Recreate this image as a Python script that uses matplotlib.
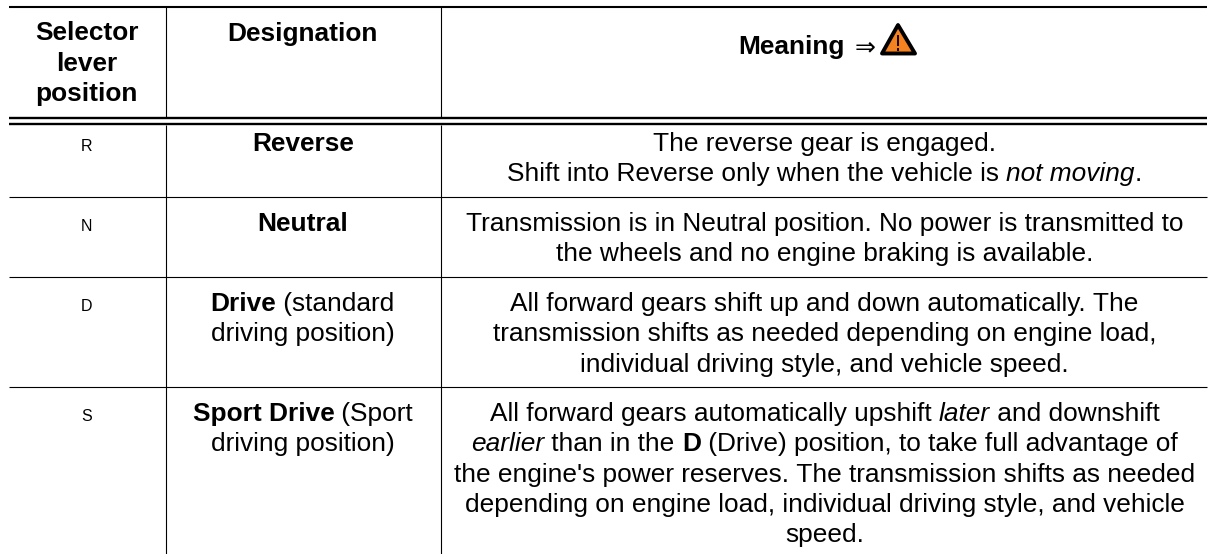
import matplotlib
matplotlib.use("Agg")
import matplotlib.pyplot as plt
from matplotlib.patches import Polygon

FONT = "Liberation Sans"
B, R, I = "bold", "regular", "italic"

positions = ["R", "N", "D", "S"]
designations = [
    [[("Reverse", B)]],
    [[("Neutral", B)]],
    [[("Drive", B), (" (standard", R)], [("driving position)", R)]],
    [[("Sport Drive", B), (" (Sport", R)], [("driving position)", R)]],
]
meanings = [
    [[("The reverse gear is engaged.", R)],
     [("Shift into Reverse only when the vehicle is ", R), ("not moving", I), (".", R)]],
    [[("Transmission is in Neutral position. No power is transmitted to", R)],
     [("the wheels and no engine braking is available.", R)]],
    [[("All forward gears shift up and down automatically. The", R)],
     [("transmission shifts as needed depending on engine load,", R)],
     [("individual driving style, and vehicle speed.", R)]],
    [[("All forward gears automatically upshift ", R), ("later", I), (" and downshift", R)],
     [("earlier", I), (" than in the ", R), ("D", B), (" (Drive) position, to take full advantage of", R)],
     [("the engine's power reserves. The transmission shifts as needed", R)],
     [("depending on engine load, individual driving style, and vehicle", R)],
     [("speed.", R)]],
]
header_col1 = ["Selector", "lever", "position"]
header_col2 = "Designation"
header_col3 = "Meaning"
header_arrow = "\u21d2"

row_rules = [197.3, 277.3, 387.3]
row_baselines = [151, 231, 311, 421]
col_rules = [165.7, 440.7]
col_centers = [86.7, 302.7, 824.5]
LINE = 30.3
FS = 18.9

fig = plt.figure(figsize=(12.16, 5.54), dpi=100)
ax = fig.add_axes([0, 0, 1, 1])
ax.set_xlim(0, 1216)
ax.set_ylim(554, 0)
ax.axis("off")
renderer = fig.canvas.get_renderer()


def style(kind):
    return dict(family=FONT,
                weight="bold" if kind == B else "normal",
                style="italic" if kind == I else "normal")


def rich_line(cx, y, runs, fs=FS):
    widths = []
    for text, kind in runs:
        t = ax.text(0, 0, text.replace(" ", "\u00a0"), fontsize=fs, **style(kind))
        widths.append(t.get_window_extent(renderer).width)
        t.remove()
    x = cx - sum(widths) / 2
    for (text, kind), w in zip(runs, widths):
        ax.text(x, y, text.replace(" ", "\u00a0"), fontsize=fs, color="black",
                ha="left", va="baseline", **style(kind))
        x += w


def block(cx, y0, lines, fs=FS):
    for i, runs in enumerate(lines):
        rich_line(cx, y0 + i * LINE, runs, fs)


# rules
L, Rt = 9, 1207
ax.plot([L, Rt], [6.7, 6.7], color="k", lw=1.5, solid_capstyle="butt")
ax.plot([L, Rt], [118.3, 118.3], color="k", lw=1.7, solid_capstyle="butt")
ax.plot([L, Rt], [124.3, 124.3], color="k", lw=1.7, solid_capstyle="butt")
for y in row_rules:
    ax.plot([L, Rt], [y, y], color="k", lw=0.8, solid_capstyle="butt")
for x in col_rules:
    ax.plot([x, x], [6.7, 117.5], color="k", lw=0.8, solid_capstyle="butt")
    ax.plot([x, x], [125, 554], color="k", lw=0.8, solid_capstyle="butt")

# header
for i, h in enumerate(header_col1):
    rich_line(col_centers[0], 40.5 + i * 30.5, [(h, B)])
rich_line(col_centers[1], 40.5, [(header_col2, B)])
ax.text(791.5, 54, header_col3, fontsize=FS, ha="center", va="baseline", **style(B))
ax.text(865, 54, header_arrow, fontsize=18, ha="center", va="baseline", family="DejaVu Sans")
ax.add_patch(Polygon([[898, 25], [882, 53.5], [915, 53.5]], closed=True, fc="#F58220",
                     ec="black", lw=2.8, joinstyle="round"))
ax.plot([898, 898], [35, 46], color="k", lw=1.3, solid_capstyle="butt")
ax.plot([898, 898], [48, 50.5], color="k", lw=1.3, solid_capstyle="butt")

# rows
for p, d, m, base in zip(positions, designations, meanings, row_baselines):
    ax.text(col_centers[0], base, p, fontsize=11.5, ha="center", va="baseline", **style(R))
    block(col_centers[1], base, d)
    block(col_centers[2], base, m)

fig.savefig("out.png", dpi=100)
